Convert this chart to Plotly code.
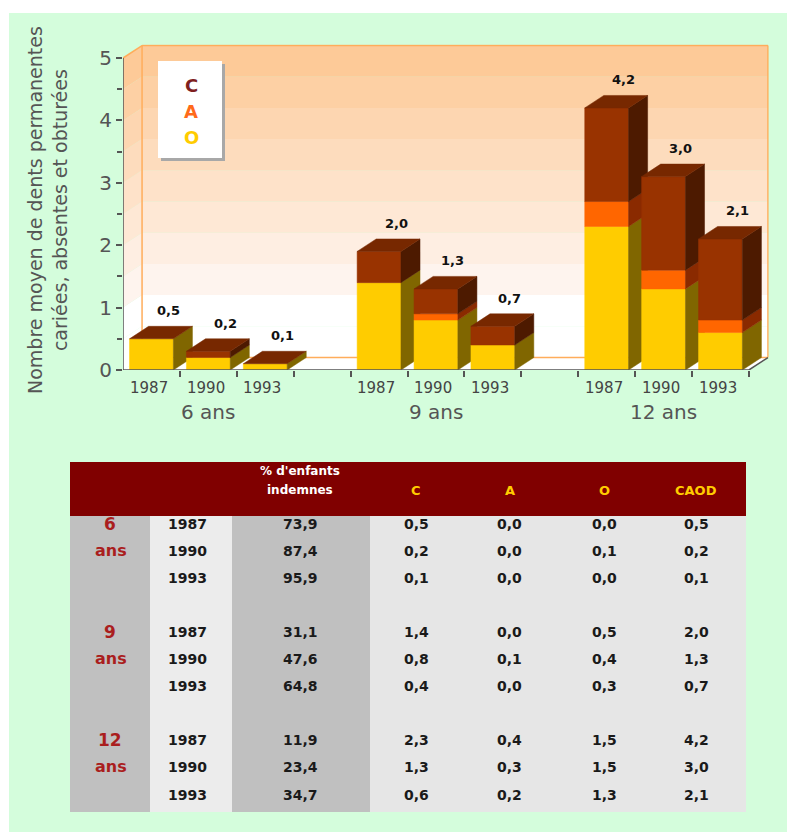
import plotly.graph_objects as go

# ---------------- data ----------------
groups = ["6 ans", "9 ans", "12 ans"]
years = ["1987", "1990", "1993"]
C_vals = [0.5, 0.2, 0.1, 1.4, 0.8, 0.4, 2.3, 1.3, 0.6]
A_vals = [0.0, 0.0, 0.0, 0.0, 0.1, 0.0, 0.4, 0.3, 0.2]
O_vals = [0.0, 0.1, 0.0, 0.5, 0.4, 0.3, 1.5, 1.5, 1.3]
CAOD_vals = [0.5, 0.2, 0.1, 2.0, 1.3, 0.7, 4.2, 3.0, 2.1]
indemnes = [73.9, 87.4, 95.9, 31.1, 47.6, 64.8, 11.9, 23.4, 34.7]
y_ticks = [0, 1, 2, 3, 4, 5]
legend_letters = ["C", "A", "O"]
table_headers = ["C", "A", "O", "CAOD"]

# ---------------- style ----------------
W, H = 787, 832
FONT = "DejaVu Sans"
FRONT = {"C": "#ffcc00", "A": "#ff6600", "O": "#993300"}
SIDE = {"C": "#806600", "A": "#8a2a00", "O": "#4d1a00"}
TOP = "#772800"
GREEN = "#d4fddc"
WALL_EDGE = "#ffad5b"
AXIS = "#555555"

def PX(x):
    return x / W

def PY(y):
    return 1 - y / H

PITCH_PX = 56.9
UNIT_PX = 62.4
XMIN, XMAX = -0.5, 10.85
YMAX = 5.22
DX, DY = 0.335, 0.2
BW = 0.385

def fmt(v):
    return f"{v:.1f}".replace(".", ",")

positions = [g * 4 + j for g in range(len(groups)) for j in range(len(years))]
n_slots = positions[-1] + 1

fig = go.Figure()
shapes = []
annotations = []

def note(x, y, text, size, color, xref="paper", yref="paper", **kw):
    d = dict(x=x, y=y, xref=xref, yref=yref, text=text, showarrow=False,
             xanchor="center", yanchor="middle",
             font=dict(family=FONT, size=size, color=color))
    d.update(kw)
    annotations.append(d)

# green panel
shapes.append(dict(type="rect", xref="paper", yref="paper", x0=PX(9), x1=1, y0=0, y1=PY(13),
                   fillcolor=GREEN, line=dict(width=0), layer="below"))

# back wall gradient bands and left wall
band_edges = [i * 0.5 for i in range(11)]
top_col = (253, 202, 152)
low_col = (254, 244, 238)
for k in range(10):
    b0, b1 = band_edges[k], band_edges[k + 1]
    if b1 <= 1.0:
        col = "rgb(255,255,255)"
    else:
        t = (k - 2) / 7.0
        c = [round(low_col[i] + (top_col[i] - low_col[i]) * t) for i in range(3)]
        col = f"rgb({c[0]},{c[1]},{c[2]})"
    shapes.append(dict(type="rect", xref="x", yref="y", x0=XMIN + DX, x1=n_slots - 0.5 + DX,
                       y0=b0 + DY, y1=b1 + DY, fillcolor=col, line=dict(width=0), layer="below"))
    shapes.append(dict(type="path", xref="x", yref="y",
                       path=f"M {XMIN},{b0} L {XMIN+DX},{b0+DY} L {XMIN+DX},{b1+DY} L {XMIN},{b1} Z",
                       fillcolor=col, line=dict(width=0), layer="below"))
# floor
shapes.append(dict(type="path", xref="x", yref="y",
                   path=f"M {XMIN},0 L {n_slots-0.5},0 L {n_slots-0.5+DX},{DY} L {XMIN+DX},{DY} Z",
                   fillcolor="white", line=dict(width=0), layer="below"))
# wall edges
xr = n_slots - 0.5 + DX
for (xa, ya, xb, yb) in [
    (XMIN + DX, 5 + DY, xr, 5 + DY),
    (xr, DY, xr, 5 + DY),
    (XMIN + DX, DY, xr, DY),
    (XMIN + DX, DY, XMIN + DX, 5 + DY),
    (XMIN, 5, XMIN + DX, 5 + DY),
]:
    shapes.append(dict(type="line", xref="x", yref="y", x0=xa, y0=ya, x1=xb, y1=yb,
                       line=dict(color=WALL_EDGE, width=1.5), layer="below"))

# 3D bars
def poly(xs, ys, color):
    fig.add_trace(go.Scatter(x=xs + [xs[0]], y=ys + [ys[0]], mode="lines", fill="toself",
                             fillcolor=color, line=dict(color=color, width=0.5),
                             hoverinfo="skip", showlegend=False))

for i, pos in enumerate(positions):
    x0, x1 = pos - BW, pos + BW
    base = 0.0
    for seg, val in (("C", C_vals[i]), ("A", A_vals[i]), ("O", O_vals[i])):
        if val <= 0:
            continue
        y0, y1 = base, base + val
        poly([x0, x1, x1, x0], [y0, y0, y1, y1], FRONT[seg])
        poly([x1, x1 + DX, x1 + DX, x1], [y0, y0 + DY, y1 + DY, y1], SIDE[seg])
        base = y1
    poly([x0, x1, x1 + DX, x0 + DX], [base, base, base + DY, base + DY], TOP)
    note(pos, base, f"<b>{fmt(CAOD_vals[i])}</b>", 13, "#111", xref="x", yref="y", xshift=17, yshift=28)
    note(pos - 0.05, PY(388), years[i % 3], 15, "#444", xref="x")

for g, name in enumerate(groups):
    note(g * 4 + 1, PY(412), name, 20, "#555", xref="x")

# front axis lines
fig.add_trace(go.Scatter(x=[XMIN, n_slots - 0.5, n_slots - 0.5 + DX], y=[0, 0, DY], mode="lines",
                         line=dict(color=AXIS, width=1.5), hoverinfo="skip", showlegend=False))
fig.add_trace(go.Scatter(x=[XMIN, XMIN], y=[0, 5], mode="lines",
                         line=dict(color=AXIS, width=1.5), hoverinfo="skip", showlegend=False))

# y axis title
note(PX(47), PY(210), "Nombre moyen de dents permanentes<br>cariées, absentes et obturées", 19, "#555",
     textangle=-90)

# legend box
shapes.append(dict(type="rect", xref="paper", yref="paper", x0=PX(161), x1=PX(225), y0=PY(161), y1=PY(64),
                   fillcolor="#a8a8a8", line=dict(width=0)))
shapes.append(dict(type="rect", xref="paper", yref="paper", x0=PX(158), x1=PX(222), y0=PY(158), y1=PY(61),
                   fillcolor="white", line=dict(width=0)))
leg_colors = ["#7f1f1f", "#ff6a1a", "#ffcc00"]
for k, letter in enumerate(legend_letters):
    note(PX(191), PY(85 + k * 26.5), f"<b>{letter}</b>", 18, leg_colors[k])

# ---------------- table ----------------
T_L, T_R, T_HT, T_HB, T_B = 70, 746, 462, 516, 812
shapes += [
    dict(type="rect", xref="paper", yref="paper", x0=PX(T_L), x1=PX(T_R), y0=PY(T_HB), y1=PY(T_HT),
         fillcolor="#800000", line=dict(width=0)),
    dict(type="rect", xref="paper", yref="paper", x0=PX(T_L), x1=PX(T_R), y0=PY(T_B), y1=PY(T_HB),
         fillcolor="#e6e6e6", line=dict(width=0)),
    dict(type="rect", xref="paper", yref="paper", x0=PX(70), x1=PX(150), y0=PY(T_B), y1=PY(T_HB),
         fillcolor="#c0c0c0", line=dict(width=0)),
    dict(type="rect", xref="paper", yref="paper", x0=PX(150), x1=PX(232), y0=PY(T_B), y1=PY(T_HB),
         fillcolor="#ececec", line=dict(width=0)),
    dict(type="rect", xref="paper", yref="paper", x0=PX(232), x1=PX(370), y0=PY(T_B), y1=PY(T_HB),
         fillcolor="#c0c0c0", line=dict(width=0)),
]
note(PX(300), PY(471), "<b>% d'enfants</b>", 12, "white")
note(PX(300), PY(490), "<b>indemnes</b>", 12, "white")
col_x = [416, 510, 604, 696]
for cx, h in zip(col_x, table_headers):
    note(PX(cx), PY(490), f"<b>{h}</b>", 13, "#ffcc00")

ROW0, ROWP = 524, 27.05
for i, pos in enumerate(positions):
    ry = ROW0 + pos * ROWP
    cells = [(187, years[i % 3]), (300, fmt(indemnes[i])), (416, fmt(C_vals[i])), (510, fmt(A_vals[i])),
             (604, fmt(O_vals[i])), (696, fmt(CAOD_vals[i]))]
    for cx, txt in cells:
        note(PX(cx), PY(ry), f"<b>{txt}</b>", 14, "#1a1a1a")
for g, name in enumerate(groups):
    num, word = name.split(" ")
    ry = ROW0 + g * 4 * ROWP
    note(PX(110), PY(ry), f"<b>{num}</b>", 17, "#aa1e1e")
    note(PX(111), PY(ry + 26), f"<b>{word}</b>", 16, "#aa1e1e")

fig.update_layout(
    width=W, height=H, margin=dict(l=0, r=0, t=0, b=0, pad=0, autoexpand=False),
    paper_bgcolor="white", plot_bgcolor="rgba(0,0,0,0)", showlegend=False,
    shapes=shapes, annotations=annotations,
    xaxis=dict(domain=[PX(123), PX(123 + (XMAX - XMIN) * PITCH_PX)], range=[XMIN, XMAX],
               automargin=False,
               showgrid=False, zeroline=False, showline=False, showticklabels=False,
               tickvals=[p + 0.5 for p in range(n_slots)], ticks="outside", ticklen=6,
               tickcolor=AXIS, tickwidth=1.5),
    yaxis=dict(domain=[PY(370), PY(370 - YMAX * UNIT_PX)], range=[0, YMAX],
               automargin=False,
               showgrid=False, zeroline=False, showline=False,
               tickvals=y_ticks, ticks="outside", ticklen=6, tickcolor=AXIS, tickwidth=1.5,
               tickfont=dict(family=FONT, size=20, color="#555"),
               minor=dict(tickvals=[v + 0.5 for v in y_ticks[:-1]], ticks="outside", ticklen=5,
                          tickcolor=AXIS, tickwidth=1.5)),
)

fig.write_html("out.html")
